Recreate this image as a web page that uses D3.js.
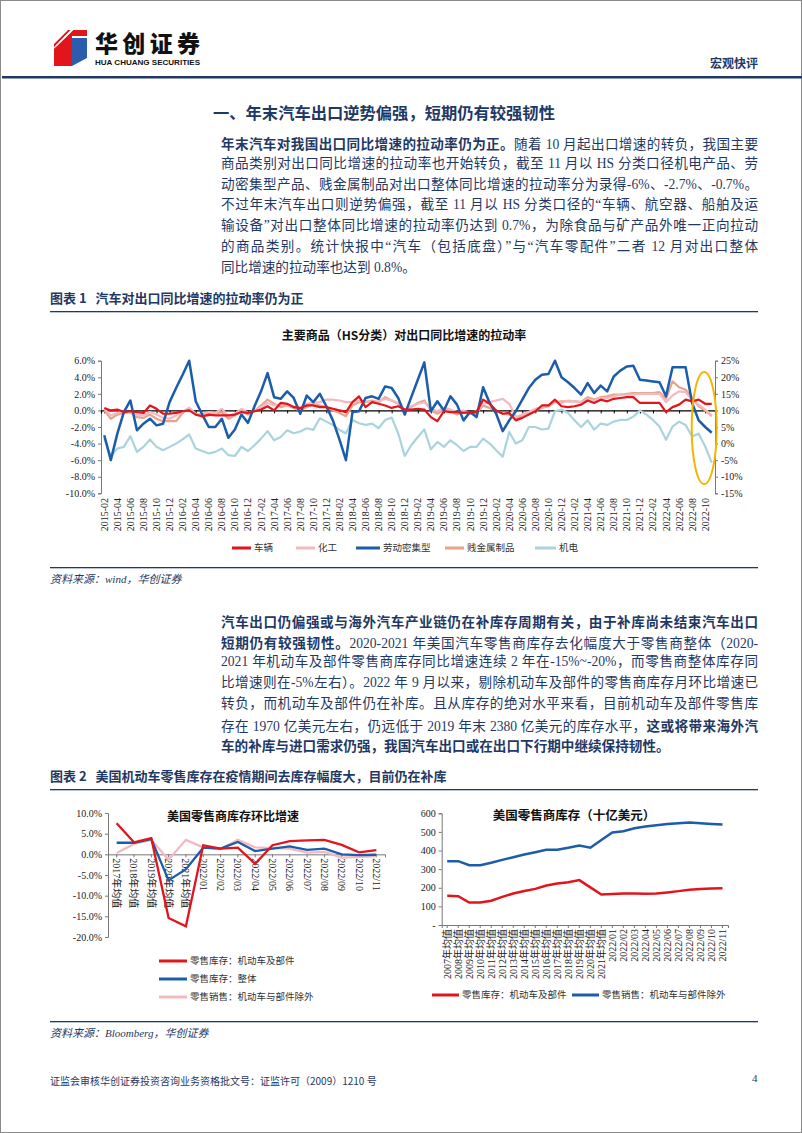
<!DOCTYPE html>
<html>
<head>
<meta charset="utf-8">
<script src="https://cdn.jsdelivr.net/npm/d3@7"></script>
<style>
body { margin: 0; background: #fff; }
#page { position: relative; width: 802px; height: 1133px; overflow: hidden;
        font-family: "Noto Sans CJK SC", sans-serif; color: #1F3864; }
#page svg { position: absolute; left: 0; top: 0; }
.t { position: absolute; white-space: nowrap; }
.line { position: absolute; left: 221px; width: 537px; height: 20px; line-height: 20px;
        font-size: 13.6px; text-align: justify; text-align-last: justify; white-space: nowrap;
        font-family: "Liberation Serif", "Noto Sans CJK SC", serif; }
.line.last { text-align-last: left; }
.line b { font-family: "Noto Sans CJK SC", sans-serif; font-weight: 700; }
.fig { font-size: 13px; font-weight: 700; }
.src { font-size: 11px; font-style: italic; font-family: "Liberation Serif", "Noto Sans CJK SC", serif; }
</style>
</head>
<body>
<div id="page"></div>
<script>
// ---- data: chart 1, contribution to export yoy growth (pp), 2015-02 .. 2022-11
const months = d3.timeMonth.range(new Date(2015, 1, 1), new Date(2022, 11, 1)).map(d3.timeFormat("%Y-%m"));

const vehicle = [0.3, 0.0, 0.1, -0.2, -0.1, -0.2, -0.3, 0.6, 0.2, -0.4, -0.4, -0.3, -0.1, 0.0, -0.5, -0.7, -0.5, -0.6, -0.6, -0.6, -0.5, -0.2, -0.3, -0.1,
  0.1, 0.5, 0.0, 0.9, 0.8, 0.4, 0.3, 0.6, 0.6, 0.4, 0.4, 0.2, 0.0, -0.2, 1.0, 1.7, 0.4, 1.0, 0.8, 0.6, 0.3, 0.5, 0.1,
  0.1, 0.2, 0.1, -0.8, -1.3, -0.1, -0.2, -0.2, -0.3, -0.2, -0.2, 1.3, 0.8, 0.0, -0.4, -0.3, -1.2, -0.9, -0.5, -0.1, 0.6, 0.6, 1.3, 0.5,
  0.4, 0.5, 0.7, 1.2, 0.9, 1.3, 1.1, 1.4, 1.5, 1.6, 1.6, 0.9, 0.9, 0.9, 0.9, -0.2, 0.4, 0.7, 1.3, 1.1, 1.3, 0.8, 0.8];
const chemical = [0.2, -0.6, -0.3, -0.1, -0.3, -0.5, -0.6, -0.2, -0.5, -0.9, -1.0, -0.6, -0.2, 0.3, -0.5, -0.4, -0.2, -0.3, 0.2, -0.7, -0.4, 0.2, -0.3, 0.0,
  0.4, 0.9, 0.6, 0.7, 0.6, 0.5, 0.2, 0.8, 0.9, 1.0, 1.3, 1.3, 1.2, 1.0, 1.0, 1.2, 1.1, 1.0, 1.1, 1.4, 1.2, 0.9, 0.0,
  0.5, 0.8, 1.0, 0.2, -0.1, 0.3, 0.1, -0.2, 0.0, -0.3, -0.1, 0.8, 1.0, 1.2, 1.4, 0.8, -0.8, -0.5, -0.2, 0.2, 0.4, 0.6, 1.2, 0.9,
  1.2, 1.1, 1.0, 1.3, 1.2, 1.5, 1.5, 1.7, 1.9, 1.9, 1.9, 2.0, 2.0, 2.0, 2.0, 1.0, 1.8, 2.3, 2.2, 1.3, 0.7, 0.1, -0.6];
const labor = [-3.0, -6.0, -2.8, -0.2, 1.2, -2.4, -1.6, -1.0, -1.8, -1.6, 1.0, 2.7, 4.3, 6.0, 1.1, -0.5, -2.0, -2.0, -1.0, -3.3, -2.3, -0.5, -1.5, 0.5,
  2.3, 4.5, 1.6, 1.4, 2.3, 1.5, -0.4, 1.8, 1.0, 2.0, 0.5, -1.2, -3.5, -6.0, -0.2, -0.1, 1.5, 1.7, 1.4, 2.9, 2.7, 1.5, -0.5,
  1.6, 3.7, 5.8, -0.1, 1.1, 0.0, 1.7, 0.7, -1.2, -0.2, -0.8, 2.8, 0.9, -0.4, -2.5, -1.2, -0.1, 1.3, 2.7, 3.7, 4.3, 4.4, 6.0, 4.0,
  3.4, 2.7, 1.9, 3.3, 2.1, 3.0, 2.3, 4.1, 4.8, 5.3, 5.4, 3.7, 3.6, 3.5, 3.4, 1.7, 5.2, 5.2, 5.2, 0.9, -1.2, -2.0, -2.7];
const metals = [0.0, -1.0, -0.5, -0.3, -0.2, -0.8, -0.9, -0.5, -1.0, -1.3, -1.3, -1.3, -0.3, 0.3, -0.4, -0.8, -0.6, -0.4, -0.2, -1.0, -0.6, -0.1, -0.5, -0.1,
  0.6, 1.3, 0.8, 0.4, 0.6, 0.3, 0.0, 0.4, 0.8, 0.6, 0.4, 0.0, -0.3, -0.7, 0.6, 1.0, 1.0, 1.2, 1.0, 1.6, 1.2, 0.8, -0.1,
  0.4, 0.9, 1.2, 0.0, -0.4, 0.1, -0.1, -0.5, -0.2, -0.4, -0.3, 0.6, 0.3, 0.0, -0.4, -0.5, -1.0, -0.6, -0.2, 0.0, 0.3, 0.5, 1.0, 1.1,
  1.1, 1.1, 1.0, 1.6, 1.3, 1.6, 1.7, 1.9, 1.9, 2.0, 2.1, 2.1, 2.1, 2.1, 2.2, 1.4, 3.5, 2.8, 2.5, 1.5, 0.5, 0.0, -0.7];
const electro = [-3.4, -5.5, -4.6, -4.4, -3.1, -5.0, -4.4, -3.5, -4.4, -4.8, -4.4, -4.0, -3.5, -2.9, -4.6, -4.9, -5.2, -5.0, -4.6, -5.4, -5.5, -4.4, -4.9, -4.2,
  -3.4, -2.5, -3.6, -3.2, -2.4, -2.75, -2.55, -2.15, -2.35, -0.95, -1.35, -1.75, -2.35, -2.75, -1.15, -1.55, -1.75, -1.6, -2.15, -1.15, -0.85, -2.75, -5.5,
  -4.2, -3.2, -2.3, -4.7, -3.8, -4.4, -3.6, -4.2, -4.9, -4.4, -4.4, -3.4, -4.0, -4.8, -5.6, -2.6, -4.0, -3.6, -2.0, -2.0, -2.3, -2.2, -0.1, 0.1,
  -0.3, -1.2, -2.0, -1.2, -2.3, -1.6, -1.75, -1.35, -1.15, -1.15, -0.75, 0.0, -0.5, -1.15, -1.95, -3.55, -1.95, -1.35, -1.75, -3.15, -2.8, -4.35, -6.3];
const leftTicks = [-10, -8, -6, -4, -2, 0, 2, 4, 6];
const rightTicks = [-15, -10, -5, 0, 5, 10, 15, 20, 25];

// ---- data: chart 2, US retailer inventory mom growth (%)
const momCats = ["2017年均值", "2018年均值", "2019年均值", "2020年均值", "2021年均值", "2022/01", "2022/02", "2022/03",
  "2022/04", "2022/05", "2022/06", "2022/07", "2022/08", "2022/09", "2022/10", "2022/11"];
const momAuto = [7.5, 2.9, 3.9, -15.4, -17.4, 2.2, 1.4, 1.6, -2.3, 2.2, 3.2, 3.4, 3.5, 2.3, 0.5, 1.0];
const momTotal = [2.8, 2.8, 3.7, -6.3, -3.6, 1.6, 1.4, 3.0, 0.8, 1.4, 1.9, 1.1, 1.4, 0.0, -0.2, -0.1];
const momSales = [0.3, 2.5, 3.5, -1.3, 3.5, 1.7, 1.3, 3.5, 1.7, 1.5, 1.4, 0.4, 0.6, -0.8, -0.6, -0.4];
const momTicks = [-20, -15, -10, -5, 0, 5, 10];

// ---- data: chart 3, US retailer inventory level (bn USD)
const lvlCats = ["2007年均值", "2008年均值", "2009年均值", "2010年均值", "2011年均值", "2012年均值", "2013年均值", "2014年均值",
  "2015年均值", "2016年均值", "2017年均值", "2018年均值", "2019年均值", "2020年均值", "2021年均值", "2022/01", "2022/02",
  "2022/03", "2022/04", "2022/05", "2022/06", "2022/07", "2022/08", "2022/09", "2022/10", "2022/11"];
const lvlAuto = [157, 155, 121, 121, 130, 151, 169, 183, 194, 212, 223, 230, 241, 202, 164, 166, 169, 169, 168, 169, 175, 182, 189, 194, 196, 198];
const lvlExAuto = [343, 343, 321, 321, 334, 350, 364, 379, 391, 404, 404, 415, 427, 415, 457, 497, 504, 520, 529, 536, 543, 547, 550, 547, 543, 540];
const lvlTicks = [0, 100, 200, 300, 400, 500, 600];

const RED = "#E2151D", PINK = "#F2B9C1", BLUE = "#1B5CAB", SALMON = "#E7A38B", LBLUE = "#AAD3DE", NAVY = "#1F3864";
const SERIF = "Liberation Serif, Noto Sans CJK SC, serif";
const fmt = d3.formatLocale({decimal: ".", thousands: ",", grouping: [3], currency: ["", ""], minus: "-"});

const page = d3.select("#page");
const svg = page.append("svg").attr("width", 802).attr("height", 1133);

// page frame + header
svg.append("rect").attr("x", 0.5).attr("y", 0.5).attr("width", 801).attr("height", 1132)
  .attr("fill", "none").attr("stroke", "#8a8a8a");
svg.append("rect").attr("x", 2).attr("y", 76).attr("width", 800).attr("height", 2.5).attr("fill", NAVY);

// logo
const logo = svg.append("g");
logo.append("polygon").attr("points", "54,44 68,30 87,30 87,36 72,36 72,66 54,66").attr("fill", RED);
logo.append("polygon").attr("points", "72,38 87,38 87,58 72,66").attr("fill", "#2A5DAE");
logo.append("clipPath").attr("id", "lc").append("polygon").attr("points", "54,44 68,30 87,30 87,36 72,36 72,66 54,66");
const stripes = logo.append("g").attr("clip-path", "url(#lc)");
[0, 4, 8, 12, 16].forEach(o => stripes.append("line").attr("x1", 52 + o).attr("y1", 50 - o)
  .attr("x2", 72 + o).attr("y2", 30 - o).attr("stroke", "#fff").attr("stroke-width", 1.2));
svg.append("text").attr("x", 95).attr("y", 52).attr("font-size", 23).attr("font-weight", 900)
  .attr("textLength", 105).attr("fill", "#111").text("华创证券");
svg.append("text").attr("x", 95).attr("y", 65).attr("font-size", 8).attr("font-weight", 700)
  .attr("font-family", "Liberation Sans, sans-serif").attr("textLength", 105).attr("lengthAdjust", "spacingAndGlyphs")
  .attr("fill", "#111").text("HUA CHUANG SECURITIES");
svg.append("text").attr("x", 758).attr("y", 68).attr("text-anchor", "end").attr("font-size", 12)
  .attr("font-weight", 700).attr("fill", NAVY).text("宏观快评");

// rules under figure captions and above sources
[[50, 311], [50, 567], [50, 789], [50, 1021]].forEach(([x, y]) =>
  svg.append("rect").attr("x", x).attr("y", y).attr("width", 708).attr("height", 1.3).attr("fill", NAVY));

// ---- text blocks
function addText(x, y, cls, html, extra) {
  const d = page.append("div").attr("class", "t " + cls).style("left", x + "px").style("top", y + "px").html(html);
  if (extra) Object.entries(extra).forEach(([k, v]) => d.style(k, v));
  return d;
}
addText(213, 100, "", "一、年末汽车出口逆势偏强，短期仍有较强韧性", {"font-size": "16.3px", "font-weight": "700"});

const para1 = [
  "<b>年末汽车对我国出口同比增速的拉动率仍为正。</b>随着 10 月起出口增速的转负，我国主要",
  "商品类别对出口同比增速的拉动率也开始转负，截至 11 月以 HS 分类口径机电产品、劳",
  "动密集型产品、贱金属制品对出口整体同比增速的拉动率分为录得-6%、-2.7%、-0.7%。",
  "不过年末汽车出口则逆势偏强，截至 11 月以 HS 分类口径的“车辆、航空器、船舶及运",
  "输设备”对出口整体同比增速的拉动率仍达到 0.7%，为除食品与矿产品外唯一正向拉动",
  "的商品类别。统计快报中“汽车（包括底盘）”与“汽车零配件”二者 12 月对出口整体",
  "同比增速的拉动率也达到 0.8%。"];
const para2 = [
  "<b>汽车出口仍偏强或与海外汽车产业链仍在补库存周期有关，由于补库尚未结束汽车出口</b>",
  "<b>短期仍有较强韧性。</b>2020-2021 年美国汽车零售商库存去化幅度大于零售商整体（2020-",
  "2021 年机动车及部件零售商库存同比增速连续 2 年在-15%~-20%，而零售商整体库存同",
  "比增速则在-5%左右）。2022 年 9 月以来，剔除机动车及部件的零售商库存月环比增速已",
  "转负，而机动车及部件仍在补库。且从库存的绝对水平来看，目前机动车及部件零售库",
  "存在 1970 亿美元左右，仍远低于 2019 年末 2380 亿美元的库存水平，<b>这或将带来海外汽</b>",
  "<b>车的补库与进口需求仍强，我国汽车出口或在出口下行期中继续保持韧性。</b>"];
function addPara(lines, y0) {
  lines.forEach((h, i) => page.append("div").attr("class", "line" + (i === lines.length - 1 ? " last" : ""))
    .style("top", (y0 + i * 20.7 - 10) + "px").html(h));
}
addPara(para1, 143.3);
addPara(para2, 621);

addText(50, 288, "fig", "图表 1&nbsp;&nbsp;&nbsp;汽车对出口同比增速的拉动率仍为正");
addText(50, 766, "fig", "图表 2&nbsp;&nbsp;&nbsp;美国机动车零售库存在疫情期间去库存幅度大，目前仍在补库");
addText(50, 570, "src", "资料来源：wind，华创证券");
addText(50, 1024, "src", "资料来源：Bloomberg，华创证券");
addText(50, 1073, "", "证监会审核华创证券投资咨询业务资格批文号：证监许可（2009）1210 号", {"font-size": "10px"});
addText(752, 1072, "", "4", {"font-size": "11px", "font-family": "Liberation Serif, serif"});

// ---- helpers
function styleAxis(g) {
  g.selectAll("path,line").attr("stroke", "#777").attr("stroke-width", 1);
  g.selectAll("text").attr("font-family", SERIF).attr("font-size", 10).attr("fill", "#222");
}
function legendItem(g, x, y, color, label, len) {
  g.append("line").attr("x1", x).attr("x2", x + len).attr("y1", y).attr("y2", y)
    .attr("stroke", color).attr("stroke-width", 3);
  g.append("text").attr("x", x + len + 3).attr("y", y).attr("dy", "0.35em").attr("font-size", 9.5)
    .attr("fill", "#333").text(label);
}

// ---- chart 1
const c1 = svg.append("g");
const x1 = d3.scalePoint().domain(months).range([101, 715]).padding(0.5);
const yL = d3.scaleLinear().domain([-10, 6]).range([493.3, 360.7]);
const yR = d3.scaleLinear().domain([-15, 25]).range([493.3, 360.7]);

c1.append("text").attr("x", 404).attr("y", 340).attr("text-anchor", "middle").attr("font-size", 12)
  .attr("font-weight", 700).attr("fill", "#111").text("主要商品（HS分类）对出口同比增速的拉动率");

c1.append("g").attr("transform", "translate(101,0)")
  .call(d3.axisLeft(yL).tickValues(leftTicks).tickSize(3).tickFormat(v => fmt.format(".1f")(v) + "%"))
  .call(styleAxis);
c1.append("g").attr("transform", "translate(715,0)")
  .call(d3.axisRight(yR).tickValues(rightTicks).tickSize(3).tickFormat(v => fmt.format("d")(v) + "%"))
  .call(styleAxis);

const evenMonths = months.filter((m, i) => i % 2 === 0);
const xa = c1.append("g").attr("transform", `translate(0,${yL(0)})`)
  .call(d3.axisBottom(x1).tickValues(evenMonths).tickSize(3).tickFormat(""));
xa.select(".domain").attr("stroke", "#000").attr("stroke-width", 1.2);
xa.selectAll("line").attr("stroke", "#000");
c1.append("g").selectAll("text").data(evenMonths).join("text")
  .attr("transform", d => `translate(${x1(d)},498) rotate(-90)`)
  .attr("text-anchor", "end").attr("dy", "0.35em")
  .attr("font-family", SERIF).attr("font-size", 10).attr("fill", "#222").text(d => d);

const line1 = d3.line().x((d, i) => x1(months[i])).y(d => yL(d));
[[electro, LBLUE, 2.2], [metals, SALMON, 2.2], [chemical, PINK, 2.2], [labor, BLUE, 2.5], [vehicle, RED, 2.2]]
  .forEach(([s, c, w]) => c1.append("path").datum(s).attr("d", line1).attr("fill", "none")
    .attr("stroke", c).attr("stroke-width", w).attr("stroke-linejoin", "round"));

c1.append("ellipse").attr("cx", x1(months[months.length - 2]) - 1).attr("cy", 428).attr("rx", 12.5).attr("ry", 56)
  .attr("fill", "none").attr("stroke", "#F4B400").attr("stroke-width", 2);

const lg1 = svg.append("g");
legendItem(lg1, 232, 548, RED, "车辆", 19);
legendItem(lg1, 296, 548, PINK, "化工", 19);
legendItem(lg1, 356, 548, BLUE, "劳动密集型", 24);
legendItem(lg1, 445, 548, SALMON, "贱金属制品", 19);
legendItem(lg1, 535, 548, LBLUE, "机电", 21);

// ---- chart 2
const c2 = svg.append("g");
const x2 = d3.scaleBand().domain(momCats).range([108, 385]);
const y2 = d3.scaleLinear().domain([-20, 10]).range([937, 813]);
c2.append("text").attr("x", 233).attr("y", 821).attr("text-anchor", "middle").attr("font-size", 12)
  .attr("font-weight", 700).attr("fill", "#111").text("美国零售商库存环比增速");
c2.append("g").attr("transform", "translate(108,0)")
  .call(d3.axisLeft(y2).tickValues(momTicks).tickSize(3).tickFormat(v => fmt.format(".1f")(v) + "%"))
  .call(styleAxis);
const xa2 = c2.append("g").attr("transform", `translate(0,${y2(0)})`)
  .call(d3.axisBottom(x2).tickSize(3).tickFormat(""));
xa2.selectAll("path,line").attr("stroke", "#777");
c2.append("g").selectAll("text").data(momCats).join("text")
  .attr("transform", d => `translate(${x2(d) + x2.bandwidth() / 2},${y2(0) + 4}) rotate(90)`)
  .attr("dy", "0.35em").attr("font-family", SERIF).attr("font-size", 10).attr("fill", "#222").text(d => d);
const line2 = d3.line().x((d, i) => x2(momCats[i]) + x2.bandwidth() / 2).y(d => y2(d));
[[momSales, PINK], [momTotal, BLUE], [momAuto, RED]].forEach(([s, c]) =>
  c2.append("path").datum(s).attr("d", line2).attr("fill", "none").attr("stroke", c).attr("stroke-width", 2.3));
const lg2 = svg.append("g");
legendItem(lg2, 159, 961, RED, "零售库存：机动车及部件", 28);
legendItem(lg2, 159, 979, BLUE, "零售库存：整体", 28);
legendItem(lg2, 159, 997, PINK, "零售销售：机动车与部件除外", 28);

// ---- chart 3
const c3 = svg.append("g");
const x3 = d3.scaleBand().domain(lvlCats).range([441.7, 728]);
const y3 = d3.scaleLinear().domain([0, 600]).range([925, 813.3]);
c3.append("text").attr("x", 574).attr("y", 820).attr("text-anchor", "middle").attr("font-size", 12.5)
  .attr("font-weight", 700).attr("fill", "#111").text("美国零售商库存（十亿美元）");
c3.append("g").attr("transform", "translate(441.7,0)")
  .call(d3.axisLeft(y3).tickValues(lvlTicks).tickSize(3).tickFormat(v => v === 0 ? "-" : v))
  .call(styleAxis);
const xa3 = c3.append("g").attr("transform", `translate(0,${y3(0)})`)
  .call(d3.axisBottom(x3).tickSize(3).tickFormat(""));
xa3.selectAll("path,line").attr("stroke", "#777");
c3.append("g").selectAll("text").data(lvlCats).join("text")
  .attr("transform", d => `translate(${x3(d) + x3.bandwidth() / 2},929) rotate(-90)`)
  .attr("text-anchor", "end").attr("dy", "0.35em")
  .attr("font-family", SERIF).attr("font-size", 10).attr("fill", "#222").text(d => d);
const line3 = d3.line().x((d, i) => x3(lvlCats[i]) + x3.bandwidth() / 2).y(d => y3(d));
[[lvlExAuto, BLUE], [lvlAuto, RED]].forEach(([s, c]) =>
  c3.append("path").datum(s).attr("d", line3).attr("fill", "none").attr("stroke", c).attr("stroke-width", 2.5));
const lg3 = svg.append("g");
legendItem(lg3, 432, 995, RED, "零售库存：机动车及部件", 27);
legendItem(lg3, 572, 995, BLUE, "零售销售：机动车与部件除外", 27);
</script>
</body>
</html>
